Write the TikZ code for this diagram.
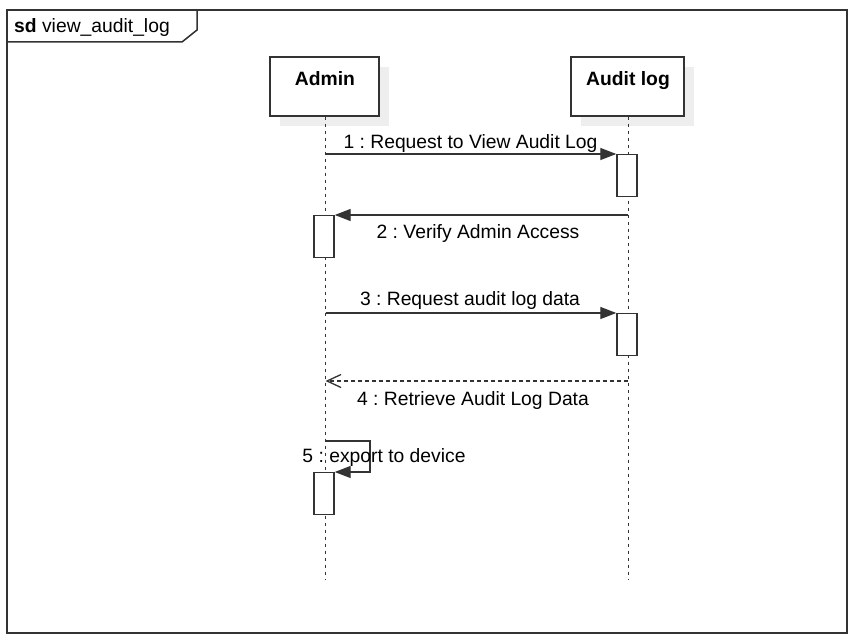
\documentclass[tikz,border=0pt]{standalone}
\usepackage{fontspec}
\setmainfont{Liberation Sans}
\usetikzlibrary{arrows.meta,calc}
\definecolor{ln}{HTML}{333333}
\definecolor{shd}{HTML}{EEEEEE}
\begin{document}
\frenchspacing
\begin{tikzpicture}[x=1pt,y=-1pt,
  txt/.style={inner sep=0pt,font=\fontsize{19.3}{22}\selectfont,text=black},
  headbox/.style={draw=ln,line width=1.4pt,fill=white,minimum width=#1,minimum height=59pt,inner sep=0pt},
  shadowbox/.style={fill=shd,minimum width=#1,minimum height=59pt,inner sep=0pt},
  act/.style={draw=ln,line width=1.4pt,fill=white,minimum width=20pt,minimum height=42pt,inner sep=0pt,anchor=north},
  lifeline/.style={draw=ln,line width=1pt,dash pattern=on 3.5pt off 3.5pt},
  call/.style={draw=ln,line width=1.3pt,-{Triangle[length=16pt,width=12pt]}},
  reply/.style={draw=ln,line width=1.3pt,dash pattern=on 4pt off 3pt,-{Straight Barb[length=14pt,width=13pt,line width=1.3pt]}}
]
\useasboundingbox (0,0) rectangle (856,642);
% frame
\draw[draw=ln,line width=2pt] (7,10) rectangle (847,633);
\draw[draw=ln,line width=1.5pt] (7,42) -- (182,42) -- (197,30) -- (197,10);
\node[txt,anchor=base west] (title) at (14,33) {\textbf{sd} view\_audit\_log};
% heads with shadows
\node[shadowbox=109pt] (adminshadow) at (334.5,96.5) {};
\node[shadowbox=113pt] (auditshadow) at (637.5,96.5) {};
% lifelines
\coordinate (adminEnd) at (325.5,580);
\coordinate (auditEnd) at (628,580);
\node[headbox=109pt] (admin) at (324.5,86.5) {};
\node[headbox=113pt] (audit) at (627.5,86.5) {};
\draw[lifeline] (admin.south -| adminEnd) -- (adminEnd);
\draw[lifeline] (audit.south -| auditEnd) -- (auditEnd);
\node[txt,anchor=base,font=\fontsize{19.3}{22}\selectfont\bfseries] (adminlbl) at (325,85) {Admin};
\node[txt,anchor=base,font=\fontsize{19.3}{22}\selectfont\bfseries] (auditlbl) at (628,85) {Audit log};
% activations
\node[act] (act1) at (627,154) {};
\node[act] (act2) at (324,215) {};
\node[act] (act3) at (627,313) {};
\node[act] (act5) at (324,472) {};
% message endpoints on lifelines
\coordinate (m1s) at (325.5,154);
\coordinate (m2s) at (628,215);
\coordinate (m3s) at (325.5,313);
\coordinate (m4s) at (628,381);
\coordinate (m4e) at (325.5,381);
\coordinate (m5s) at (325.5,441);
\coordinate (m5c) at (370,441);
% messages
\draw[call] (m1s) -- (act1.north west);
\draw[call] (m2s) -- (act2.north east);
\draw[call] (m3s) -- (act3.north west);
\draw[reply] (m4s) -- (m4e);
\draw[call] (m5s) -- (m5c) |- (act5.north east);
% labels
\node[txt,anchor=base] (l1) at (470.5,148) {1 : Request to View Audit Log};
\node[txt,anchor=base] (l2) at (478,238) {2 : Verify Admin Access};
\node[txt,anchor=base] (l3) at (470,305) {3 : Request audit log data};
\node[txt,anchor=base] (l4) at (473,405) {4 : Retrieve Audit Log Data};
\node[txt,anchor=base] (l5) at (384,462) {5 : export to device};
\end{tikzpicture}
\end{document}
